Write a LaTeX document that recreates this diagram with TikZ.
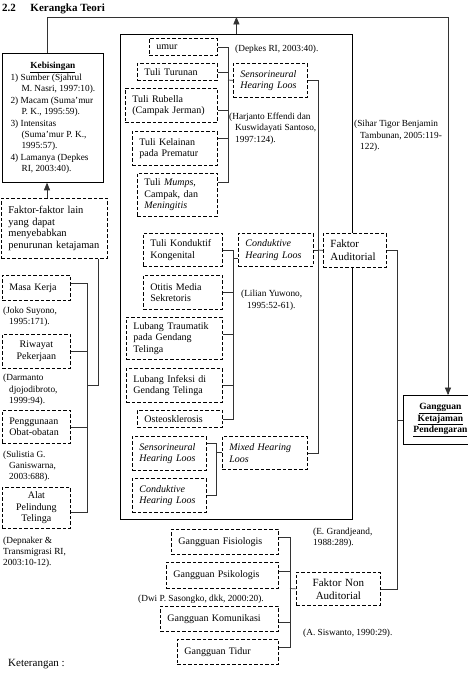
\documentclass[tikz,border=0pt]{standalone}
\usepackage{fontspec}
\setmainfont{Liberation Serif}
\usetikzlibrary{arrows}
\tikzset{%
  mybox/.style={draw, dash pattern=on 3.5pt off 2pt, line width=0.8pt, fill=white, anchor=north west, align=left, inner xsep=7pt, inner ysep=0pt},
  mysolid/.style={draw, line width=0.8pt, fill=white, anchor=north west, inner xsep=7pt, inner ysep=0pt},
  myline/.style={draw=black!80, line width=0.7pt},
  myedge/.style={->, >=triangle 45, draw=black!80, line width=0.7pt},
  every node/.style={font=\fontsize{10}{11.5}\selectfont}
}

\begin{document}
\begin{tikzpicture}[x=1pt, y=-1pt]
  \tikzset{mycite/.style={anchor=north west, align=left, inner sep=0pt, font=\fontsize{9.3}{11.4}\selectfont}};
  \tikzset{mybig/.style={font=\fontsize{11}{13}\selectfont}};

\useasboundingbox (0,0) rectangle (467,680);

\node [anchor=north west, inner sep=0pt, font=\bfseries\fontsize{11}{13}\selectfont] (TITLE) at (2,4) {2.2\hspace{14.5pt}Kerangka Teori};

% frame
\node [draw, line width=0.8pt, anchor=north west, inner sep=0pt, minimum width=232pt, minimum height=485pt] (FR) at (120,34) {};

% left column
\node [mysolid, minimum width=101pt, minimum height=129pt, font=\fontsize{9.3}{11.4}\selectfont] (KB) at (2,53) {%
  \begin{tabular}{@{}l@{}}
    \multicolumn{1}{@{}c@{}}{\textbf{\underline{Kebisingan}}}\\
    1) Sumber (Sjahrul\\
    \hspace*{11pt}M. Nasri, 1997:10).\\
    2) Macam (Suma’mur\\
    \hspace*{11pt}P. K., 1995:59).\\
    3) Intensitas\\
    \hspace*{11pt}(Suma’mur P. K.,\\
    \hspace*{11pt}1995:57).\\
    4) Lamanya (Depkes\\
    \hspace*{11pt}RI, 2003:40).
  \end{tabular}};
\node [mybox, text width=92pt, minimum height=60pt, font=\fontsize{10.5}{11.6}\selectfont] (FL) at (1,198) {Faktor-faktor lain\\ yang dapat\\ menyebabkan\\ penurunan ketajaman};
\node [mybox, text width=54pt, minimum height=25pt] (MK) at (2,275) {Masa Kerja};
\node [mybox, text width=54pt, minimum height=34pt, align=center] (RP) at (2,334) {Riwayat\\ Pekerjaan};
\node [mybox, text width=54pt, minimum height=33pt] (PO) at (2,410) {Penggunaan\\ Obat-obatan};
\node [mybox, text width=54pt, minimum height=41pt, align=center] (AP) at (2,487) {Alat\\ Pelindung\\ Telinga};

% inner column
\node [mybox, text width=54pt, minimum height=17pt] (UM) at (149,38) {umur};
\node [mybox, text width=66pt, minimum height=17pt] (TT) at (137,63) {Tuli Turunan};
\node [mybox, text width=78pt, minimum height=34pt] (TR) at (125,88) {Tuli Rubella\\ (Campak Jerman)};
\node [mybox, text width=71pt, minimum height=34pt] (TK) at (132,131) {Tuli Kelainan\\ pada Prematur};
\node [mybox, text width=66pt, minimum height=43pt] (TM) at (137,173) {Tuli \textit{Mumps},\\ Campak, dan\\ \textit{Meningitis}};
\node [mybox, text width=60pt, minimum height=34pt, font=\itshape\fontsize{10}{11.5}\selectfont] (SNA) at (233,63) {Sensorineural\\ Hearing Loos};

\node [mybox, text width=65pt, minimum height=33pt] (KK) at (143,233) {Tuli~Konduktif\\ Kongenital};
\node [mybox, text width=65pt, minimum height=34pt] (OM) at (143,275) {Otitis Media\\ Sekretoris};
\node [mybox, text width=82pt, minimum height=42pt] (LT) at (126,317) {Lubang Traumatik\\ pada Gendang\\ Telinga};
\node [mybox, text width=82pt, minimum height=34pt] (LI) at (126,368) {Lubang Infeksi di\\ Gendang Telinga};
\node [mybox, text width=71pt, minimum height=17pt] (OS) at (137,410) {Osteosklerosis};
\node [mybox, text width=61pt, minimum height=33pt, font=\itshape\fontsize{10}{11.5}\selectfont] (CDA) at (238,233) {Conduktive\\ Hearing Loos};

\node [mybox, text width=60pt, minimum height=34pt, font=\itshape\fontsize{10}{11.5}\selectfont] (SNB) at (132,436) {Sensorineural\\ Hearing Loos};
\node [mybox, text width=60pt, minimum height=34pt, font=\itshape\fontsize{10}{11.5}\selectfont] (CDB) at (132,478) {Conduktive\\ Hearing Loos};
\node [mybox, text width=71pt, minimum height=33pt, font=\itshape\fontsize{10}{11.5}\selectfont] (MX) at (222,436) {Mixed Hearing\\ Loos};

% right side
\node [mybox, mybig, text width=49pt, minimum height=34pt] (FA) at (323,233) {Faktor\\ Auditorial};
\node [mysolid, text width=60pt, minimum height=49pt, align=center, font=\bfseries\fontsize{9.5}{11.7}\selectfont] (GK) at (403,395) {\underline{Gangguan}\\ \underline{Ketajaman}\\ \underline{Pendengaran}};
\node [mybox, mybig, text width=70pt, minimum height=33pt, align=center] (FNA) at (296,572) {Faktor Non\\ Auditorial};

% bottom column
\node [mybox, text width=93pt, minimum height=25pt] (GF) at (171,529) {Gangguan Fisiologis};
\node [mybox, text width=98pt, minimum height=26pt] (GP) at (166,562) {Gangguan Psikologis};
\node [mybox, text width=104pt, minimum height=25pt] (GKm) at (160,606) {Gangguan Komunikasi};
\node [mybox, text width=87pt, minimum height=25pt] (GT) at (177,639) {Gangguan Tidur};

% sources
\node [mycite] (C1) at (235,45) {(Depkes RI, 2003:40).};
\node [mycite] (C2) at (229,112.5) {(Harjanto Effendi dan\\ \hspace*{6pt}Kuswidayati Santoso,\\ \hspace*{6pt}1997:124).};
\node [mycite] (C3) at (354,120) {(Sihar Tigor Benjamin\\ \hspace*{6pt}Tambunan, 2005:119-\\ \hspace*{6pt}122).};
\node [mycite] (C4) at (241,290) {(Lilian Yuwono,\\ \hspace*{6pt}1995:52-61).};
\node [mycite] (C5) at (3,306.5) {(Joko Suyono,\\ \hspace*{6pt}1995:171).};
\node [mycite] (C6) at (3,374) {(Darmanto\\ \hspace*{6pt}djojodibroto,\\ \hspace*{6pt}1999:94).};
\node [mycite] (C7) at (3,450.5) {(Sulistia G.\\ \hspace*{6pt}Ganiswarna,\\ \hspace*{6pt}2003:688).};
\node [mycite] (C8) at (3,536.5) {(Depnaker \&\\ Transmigrasi RI,\\ 2003:10-12).};
\node [mycite] (C9) at (313,527.5) {(E. Grandjeand,\\ 1988:289).};
\node [mycite] (C10) at (138,594.5) {(Dwi P. Sasongko, dkk, 2000:20).};
\node [mycite] (C11) at (303,628.5) {(A. Siswanto, 1990:29).};
\node [mycite, mybig] (KET) at (8,659.5) {Keterangan :};

% top line
\coordinate (T1) at (47,17);
\coordinate (T2) at (448,17);
\draw [myline] (T1 |- KB.north) -- (T1) -- (T2);
\draw [myedge] (T2) -- (T2 |- GK.north);
\draw [myedge] (FR.north) -- (FR.north |- T1);
\draw [myedge] (T1 |- FL.north) -- (T1 |- KB.south);

% brackets (name / shift of the tap)
\coordinate (L1) at (87,385);
\coordinate (L2) at (98,385);
\foreach \n / \d in {MK/4.5, RP/0, PO/0, AP/-4.5} {
  \draw [myline] ([yshift=\d pt]\n.east) -| (L1);
}
\draw [myline] (L1) -- (L2) -- (L2 |- FL.south);

\coordinate (B1) at (228,80);
\foreach \n / \d in {UM/0, TT/0, TR/-5, TK/10, TM/12.5} {
  \draw [myline] ([yshift=\d pt]\n.east) -| (B1);
}
\draw [myline] (B1) -- (SNA.west);

\coordinate (B2) at (233,258);
\foreach \n / \d in {KK/0, OM/0, LT/4, LI/0, OS/0} {
  \draw [myline] ([yshift=\d pt]\n.east) -| (B2);
}
\draw [myline] (B2) -- (B2 -| CDA.west);

\coordinate (B3) at (216,452);
\foreach \n / \d in {SNB/10, CDB/0} {
  \draw [myline] ([yshift=\d pt]\n.east) -| (B3);
}
\draw [myline] (B3) -- (B3 -| MX.west);

\coordinate (B4) at (318,250);
\foreach \n in {SNA,CDA,MX} {
  \draw [myline] (\n.east) -| (B4);
}
\draw [myline] (B4) -- (FA.west);

\coordinate (B5) at (290,588.5);
\foreach \n / \d in {GF/4.5, GP/4, GKm/-3.5, GT/4.5} {
  \draw [myline] ([yshift=\d pt]\n.east) -| (B5);
}
\draw [myline] (B5) -- (FNA.west);

\coordinate (R1) at (397,420);
\foreach \n in {FA,FNA} {
  \draw [myline] (\n.east) -| (R1);
}
\draw [myline] (R1) -- (R1 -| GK.west);

\end{tikzpicture}
\end{document}
